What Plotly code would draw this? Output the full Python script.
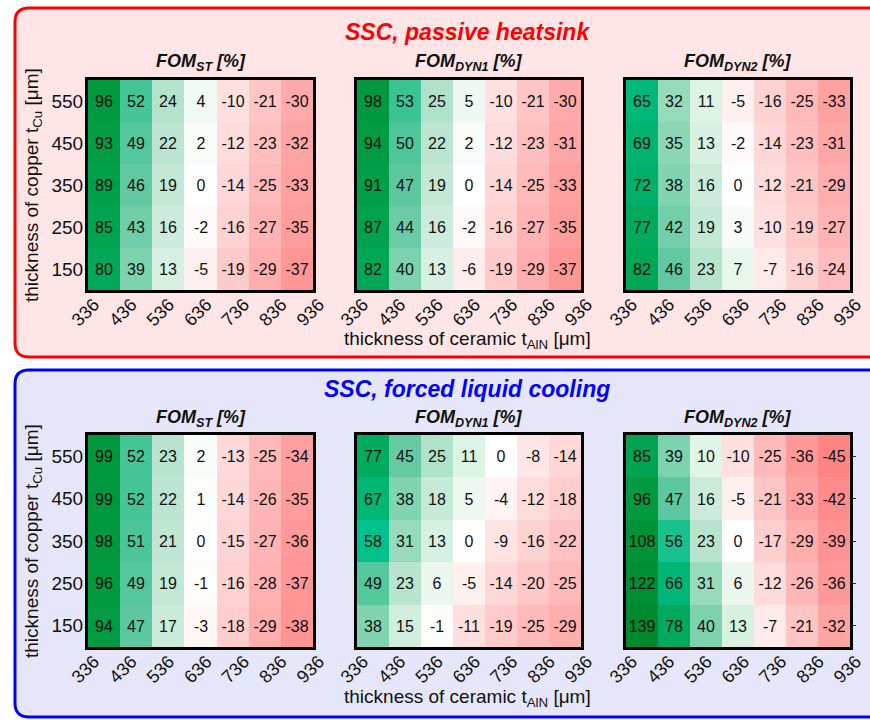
import numpy as np
import plotly.graph_objects as go

W, H = 870, 720

# ceramic (AlN) thickness ticks and copper thickness rows (top to bottom)
t_aln = [336, 436, 536, 636, 736, 836, 936]
t_cu = [550, 450, 350, 250, 150]

# SSC, passive heatsink
passive_st = [
    [96, 52, 24, 4, -10, -21, -30],
    [93, 49, 22, 2, -12, -23, -32],
    [89, 46, 19, 0, -14, -25, -33],
    [85, 43, 16, -2, -16, -27, -35],
    [80, 39, 13, -5, -19, -29, -37],
]
passive_dyn1 = [
    [98, 53, 25, 5, -10, -21, -30],
    [94, 50, 22, 2, -12, -23, -31],
    [91, 47, 19, 0, -14, -25, -33],
    [87, 44, 16, -2, -16, -27, -35],
    [82, 40, 13, -6, -19, -29, -37],
]
passive_dyn2 = [
    [65, 32, 11, -5, -16, -25, -33],
    [69, 35, 13, -2, -14, -23, -31],
    [72, 38, 16, 0, -12, -21, -29],
    [77, 42, 19, 3, -10, -19, -27],
    [82, 46, 23, 7, -7, -16, -24],
]

# SSC, forced liquid cooling
forced_st = [
    [99, 52, 23, 2, -13, -25, -34],
    [99, 52, 22, 1, -14, -26, -35],
    [98, 51, 21, 0, -15, -27, -36],
    [96, 49, 19, -1, -16, -28, -37],
    [94, 47, 17, -3, -18, -29, -38],
]
forced_dyn1 = [
    [77, 45, 25, 11, 0, -8, -14],
    [67, 38, 18, 5, -4, -12, -18],
    [58, 31, 13, 0, -9, -16, -22],
    [49, 23, 6, -5, -14, -20, -25],
    [38, 15, -1, -11, -19, -25, -29],
]
forced_dyn2 = [
    [85, 39, 10, -10, -25, -36, -45],
    [96, 47, 16, -5, -21, -33, -42],
    [108, 56, 23, 0, -17, -29, -39],
    [122, 66, 31, 6, -12, -26, -36],
    [139, 78, 40, 13, -7, -21, -32],
]

panel_titles = ["SSC, passive heatsink", "SSC, forced liquid cooling"]
fom_titles = ["FOM<sub>ST</sub> [%]", "FOM<sub>DYN1</sub> [%]", "FOM<sub>DYN2</sub> [%]"]

# diverging red / white / green colour map (value -> colour)
ZMIN, ZMAX = -45, 140
cmap_stops = [
    (-45, "#ff8585"), (-37, "#ff9696"), (-30, "#ffaaaa"), (-25, "#ffb9b9"),
    (-19, "#ffcaca"), (-14, "#ffd7d7"), (-10, "#ffe0e0"), (-5, "#fff0f0"),
    (0, "#ffffff"), (5, "#eef8f0"), (11, "#dcf4e4"), (16, "#cdebdc"),
    (23, "#b8e4cf"), (31, "#98dbbc"), (40, "#7bd2ad"), (46, "#62c8a2"),
    (52, "#45c596"), (58, "#00c08c"), (65, "#00b87a"), (77, "#00ab5e"),
    (85, "#00a450"), (96, "#009a40"), (110, "#009136"), (140, "#008a30"),
]
colorscale = [[(v - ZMIN) / (ZMAX - ZMIN), c] for v, c in cmap_stops]

FONT = "Liberation Sans, Arial, sans-serif"


def px_x(x):
    return x / W


def px_y(y):
    return 1 - y / H


# heatmap boxes in pixels: columns (x0, x1) and rows (y0, y1)
col_px = [(88, 313), (357, 581), (626, 850)]
row_px = [(80, 290), (435, 647)]

fig = go.Figure()
datasets = [[passive_st, passive_dyn1, passive_dyn2], [forced_st, forced_dyn1, forced_dyn2]]

layout = {}
idx = 0
edge_ticks = list(np.linspace(-0.5, len(t_aln) - 0.5, len(t_aln)))
for r, (ry0, ry1) in enumerate(row_px):
    for c, (cx0, cx1) in enumerate(col_px):
        idx += 1
        sx = "" if idx == 1 else str(idx)
        z = datasets[r][c]
        fig.add_trace(go.Heatmap(
            z=z,
            text=[[str(v) for v in row] for row in z],
            x=list(range(len(t_aln))),
            y=[str(v) for v in t_cu],
            colorscale=colorscale, zmin=ZMIN, zmax=ZMAX, showscale=False,
            texttemplate="%{text}",
            textfont=dict(family=FONT, size=16, color="#111111"),
            hoverinfo="skip",
            xaxis="x" + sx, yaxis="y" + sx,
        ))
        layout["xaxis" + sx] = dict(
            domain=[px_x(cx0), px_x(cx1)], anchor="y" + sx, automargin=False,
            range=[-0.5, len(t_aln) - 0.5],
            tickmode="array", tickvals=edge_ticks, ticktext=[str(v) for v in t_aln],
            tickangle=-45, ticks="", tickfont=dict(family=FONT, size=18, color="#111111"),
            ticklabelstandoff=-6, ticklabelshift=6,
            showline=True, linewidth=3, linecolor="black", mirror=True,
            showgrid=False, zeroline=False, fixedrange=True,
        )
        yax = dict(
            domain=[px_y(ry1), px_y(ry0)], anchor="x" + sx, automargin=False,
            type="category", autorange="reversed",
            showline=True, linewidth=3, linecolor="black", mirror=True,
            showgrid=False, zeroline=False, fixedrange=True,
            tickfont=dict(family=FONT, size=19, color="#111111"),
            ticklabelstandoff=-2,
            ticks="", showticklabels=(c == 0),
        )
        if r == 1 and c == 2:
            yax.update(side="right", ticks="outside", ticklen=3, tickwidth=1,
                       tickcolor="#333333", showticklabels=False)
        layout["yaxis" + sx] = yax


def rounded_path(x0, y0, x1, y1, rad):
    pts = [
        ("M", [(x0 + rad, y0)]), ("L", [(x1 - rad, y0)]), ("Q", [(x1, y0), (x1, y0 + rad)]),
        ("L", [(x1, y1 - rad)]), ("Q", [(x1, y1), (x1 - rad, y1)]),
        ("L", [(x0 + rad, y1)]), ("Q", [(x0, y1), (x0, y1 - rad)]),
        ("L", [(x0, y0 + rad)]), ("Q", [(x0, y0), (x0 + rad, y0)]),
    ]
    s = ""
    for cmd, ps in pts:
        s += cmd + " " + " ".join(f"{px_x(px):.5f},{px_y(py):.5f}" for px, py in ps) + " "
    return s + "Z"


shapes = [
    dict(type="path", xref="paper", yref="paper", layer="below",
         path=rounded_path(15, 8, 890, 357, 14),
         fillcolor="#ffe5e5", line=dict(color="#ff0000", width=3)),
    dict(type="path", xref="paper", yref="paper", layer="below",
         path=rounded_path(15, 370, 890, 717, 14),
         fillcolor="#e6e6fa", line=dict(color="#0000ff", width=3)),
]

annotations = []
panel_colors = ["#ff0000", "#0000ff"]
panel_title_y = [32, 389]
fom_title_y = [62, 418]
xtitle_y = [340, 698]
for r, (ry0, ry1) in enumerate(row_px):
    annotations.append(dict(
        text="<b><i>" + panel_titles[r] + "</i></b>", x=px_x(467), y=px_y(panel_title_y[r]),
        xref="paper", yref="paper", showarrow=False, xanchor="center", yanchor="middle",
        font=dict(family=FONT, size=23, color=panel_colors[r])))
    for c, (cx0, cx1) in enumerate(col_px):
        annotations.append(dict(
            text="<b><i>" + fom_titles[c] + "</i></b>", x=px_x((cx0 + cx1) / 2),
            y=px_y(fom_title_y[r]), xref="paper", yref="paper", showarrow=False,
            xanchor="center", yanchor="middle",
            font=dict(family=FONT, size=18, color="#111111")))
    annotations.append(dict(
        text="thickness of copper t<sub>Cu</sub> [μm]", x=px_x(33), y=px_y((ry0 + ry1) / 2),
        xref="paper", yref="paper", showarrow=False, textangle=-90,
        xanchor="center", yanchor="middle",
        font=dict(family=FONT, size=19, color="#111111")))
    annotations.append(dict(
        text="thickness of ceramic t<sub>AlN</sub> [μm]", x=px_x(467), y=px_y(xtitle_y[r]),
        xref="paper", yref="paper", showarrow=False, xanchor="center", yanchor="middle",
        font=dict(family=FONT, size=19, color="#111111")))

fig.update_layout(
    width=W, height=H, margin=dict(l=0, r=0, t=0, b=0),
    paper_bgcolor="white", plot_bgcolor="rgba(0,0,0,0)",
    showlegend=False, shapes=shapes, annotations=annotations,
    **layout,
)

fig.write_html("out.html")
